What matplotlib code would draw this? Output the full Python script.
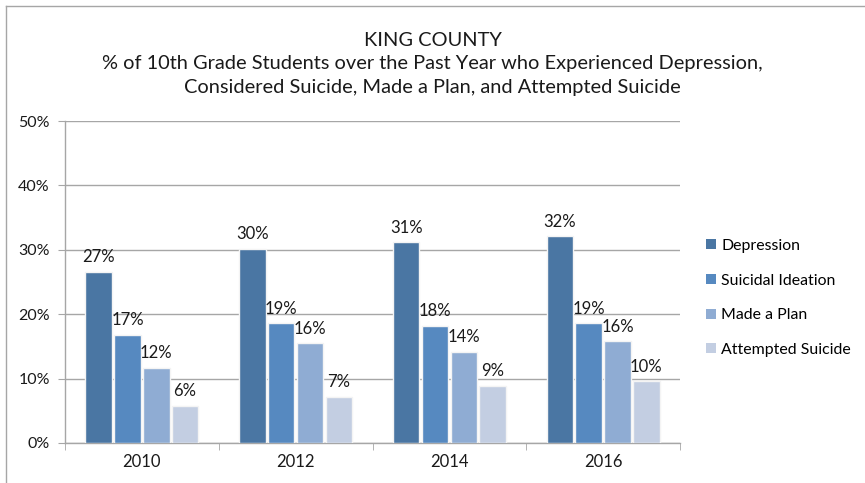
import numpy as np
import matplotlib
matplotlib.use("Agg")
import matplotlib.pyplot as plt
from matplotlib.lines import Line2D
from matplotlib.patches import Patch

years = ["2010", "2012", "2014", "2016"]
series = ["Depression", "Suicidal Ideation", "Made a Plan", "Attempted Suicide"]
depression = [26.6, 30.2, 31.2, 32.1]
suicidal_ideation = [16.8, 18.6, 18.2, 18.6]
made_a_plan = [11.7, 15.5, 14.2, 15.8]
attempted_suicide = [5.8, 7.2, 8.9, 9.6]
yticks = [0, 10, 20, 30, 40, 50]

colors = ["#4A76A3", "#5689C0", "#8FACD3", "#C3CEE2"]
values = [depression, suicidal_ideation, made_a_plan, attempted_suicide]

plt.rcParams["font.family"] = ["Lato", "DejaVu Sans"]
TXT = "#1a1a1a"

fig = plt.figure(figsize=(8.65, 4.83), dpi=100)
ax = fig.add_axes([65 / 865, 1 - 443 / 483, 615 / 865, 322 / 483])

x = np.arange(len(years))
slot = 0.1875
barw = 0.172
for i, (vals, col) in enumerate(zip(values, colors)):
    pos = x + (i - 1.5) * slot
    ax.bar(pos, vals, width=barw, color=col, edgecolor="#F4F4F4",
           linewidth=1.0, zorder=3, label=series[i])
    for p, v in zip(pos, vals):
        ax.text(p, v + 1.0, f"{round(v)}%", ha="center", va="bottom",
                fontsize=12, color=TXT, zorder=4)

ax.set_xlim(-0.5, len(years) - 0.5)
ax.set_ylim(0, 50)
ax.set_yticks(yticks)
ax.set_yticklabels([f"{t}%" for t in yticks], fontsize=11.5, color=TXT)
ax.yaxis.grid(True, color="#A6A6A6", linewidth=1.0, zorder=0)
ax.set_axisbelow(True)

ax.set_xticks(x)
ax.set_xticklabels(years, fontsize=12, color=TXT)
ax.set_xticks(np.arange(-0.5, len(years)), minor=True)
ax.tick_params(axis="x", which="major", length=0, pad=8)
ax.tick_params(axis="x", which="minor", length=5, color="#A6A6A6", direction="out")
ax.tick_params(axis="y", length=5, color="#A6A6A6", direction="out", pad=6)

for s in ["top", "right"]:
    ax.spines[s].set_visible(False)
for s in ["left", "bottom"]:
    ax.spines[s].set_color("#A6A6A6")
    ax.spines[s].set_linewidth(1.0)

fig.text(0.5, 1 - 40 / 483, "KING COUNTY", ha="center", va="center",
         fontsize=14.4, color=TXT)
fig.text(0.5, 1 - 63 / 483,
         "% of 10th Grade Students over the Past Year who Experienced Depression,",
         ha="center", va="center", fontsize=14.4, color=TXT)
fig.text(0.5, 1 - 87 / 483,
         "Considered Suicide, Made a Plan, and Attempted Suicide",
         ha="center", va="center", fontsize=14.4, color=TXT)

handles = [Patch(facecolor=c, edgecolor="none") for c in colors]
leg = fig.legend(handles, series, loc="upper left",
                 bbox_to_anchor=(706 / 865, 1 - 239 / 483),
                 frameon=False, fontsize=11.4, handlelength=0.6,
                 handleheight=0.6, handletextpad=0.35, labelspacing=1.3,
                 borderaxespad=0, borderpad=0)

# outer chart frame
fig.add_artist(Line2D([6 / 865, 6 / 865], [0, 1 - 6 / 483],
                      transform=fig.transFigure, color="#A6A6A6", lw=1.0))
fig.add_artist(Line2D([6 / 865, 1], [1 - 6 / 483, 1 - 6 / 483],
                      transform=fig.transFigure, color="#A6A6A6", lw=1.0))

fig.savefig("out.png", dpi=100)
